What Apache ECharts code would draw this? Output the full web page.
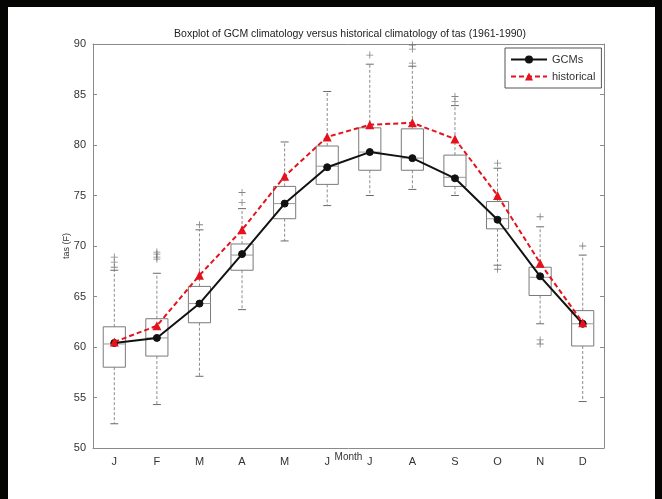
<!DOCTYPE html>
<html>
<head>
<meta charset="utf-8">
<script src="https://cdn.jsdelivr.net/npm/echarts@6/dist/echarts.min.js"></script>
<style>
  html, body { margin: 0; padding: 0; background: #050503; width: 662px; height: 499px; overflow: hidden; }
  #chart { position: absolute; left: 8px; top: 7px; width: 647px; height: 492px; background: #ffffff; }
</style>
</head>
<body>
<div id="chart"></div>
<script>
// Monthly climatology of tas (F), 1961-1990
const months = ['J', 'F', 'M', 'A', 'M', 'J', 'J', 'A', 'S', 'O', 'N', 'D'];

// Spread of the GCM ensemble for each month (box-and-whisker statistics)
const whiskerLow  = [52.4, 54.3, 57.1, 63.7, 70.5, 74.0, 75.0, 75.6, 75.0, 68.1, 62.3, 54.6];
const quartile1   = [58.0, 59.1, 62.4, 67.6, 72.7, 76.1, 77.5, 77.5, 75.9, 71.7, 65.1, 60.1];
const medians     = [60.3, 60.9, 64.3, 69.1, 74.2, 77.9, 79.3, 78.7, 76.8, 72.7, 66.9, 62.3];
const quartile3   = [62.0, 62.8, 66.0, 70.2, 75.9, 79.9, 81.7, 81.6, 79.0, 74.4, 67.9, 63.6];
const whiskerHigh = [67.6, 67.3, 71.6, 73.7, 80.3, 85.3, 88.0, 87.8, 83.9, 77.7, 71.9, 69.1];

// Individual GCM values beyond the whiskers: [month index, value]
const outliers = [
  [0, 67.9], [0, 68.4], [0, 68.9],
  [1, 68.7], [1, 68.9], [1, 69.2], [1, 69.4],
  [2, 72.1],
  [3, 74.3], [3, 75.3],
  [6, 88.9],
  [7, 88.1], [7, 89.5], [7, 89.9],
  [8, 84.3], [8, 84.8],
  [9, 78.2], [9, 67.7],
  [10, 72.9], [10, 60.7], [10, 60.3],
  [11, 70.0]
];

// Ensemble mean of the GCMs and the observed (historical) climatology
const gcmMean    = [60.4, 60.9, 64.3, 69.2, 74.2, 77.8, 79.3, 78.7, 76.7, 72.6, 67.0, 62.3];
const historical = [60.5, 62.1, 67.1, 71.6, 76.9, 80.8, 82.0, 82.2, 80.6, 75.0, 68.3, 62.4];

const yTicks = { min: 50, max: 90, interval: 5 };

const boxData = months.map((m, i) => [i, whiskerLow[i], quartile1[i], medians[i], quartile3[i], whiskerHigh[i]]);

const frameColor = '#8a8a8a';
const boxColor = '#7a7a7a';
const fontFamily = 'Liberation Sans, Arial, sans-serif';

function renderBox(params, api) {
  const i = api.value(0);
  const band = api.size([1, 0])[0];
  const half = band * 0.26;
  const cap = 4;
  const pLow = api.coord([i, api.value(1)]);
  const pQ1 = api.coord([i, api.value(2)]);
  const pMed = api.coord([i, api.value(3)]);
  const pQ3 = api.coord([i, api.value(4)]);
  const pHigh = api.coord([i, api.value(5)]);
  const x = pQ1[0];
  const solid = { stroke: boxColor, lineWidth: 1, fill: null };
  const dashed = { stroke: '#8c8c8c', lineWidth: 1, lineDash: [3, 2] };
  return {
    type: 'group',
    children: [
      { type: 'line', shape: { x1: x, y1: pQ3[1], x2: x, y2: pHigh[1] }, style: dashed },
      { type: 'line', shape: { x1: x, y1: pQ1[1], x2: x, y2: pLow[1] }, style: dashed },
      { type: 'line', shape: { x1: x - cap, y1: pHigh[1], x2: x + cap, y2: pHigh[1] }, style: { stroke: '#6a6a6a', lineWidth: 1 } },
      { type: 'line', shape: { x1: x - cap, y1: pLow[1], x2: x + cap, y2: pLow[1] }, style: { stroke: '#6a6a6a', lineWidth: 1 } },
      { type: 'rect', shape: { x: x - half, y: pQ3[1], width: half * 2, height: pQ1[1] - pQ3[1] }, style: solid },
      { type: 'line', shape: { x1: x - half, y1: pMed[1], x2: x + half, y2: pMed[1] }, style: { stroke: '#9a9a9a', lineWidth: 1 } }
    ]
  };
}

const chart = echarts.init(document.getElementById('chart'), null, { renderer: 'canvas' });

const axisFont = { fontFamily: fontFamily, fontSize: 11, color: '#333' };

chart.setOption({
  animation: false,
  backgroundColor: '#ffffff',
  title: {
    text: 'Boxplot of GCM climatology versus historical climatology of tas (1961-1990)',
    left: 337, top: 17, textAlign: 'center',
    textStyle: { fontFamily: fontFamily, fontSize: 10.5, fontWeight: 'normal', color: '#222' }
  },
  legend: {
    orient: 'vertical',
    left: 497, top: 41,
    padding: [6, 6, 6, 5],
    itemGap: 6,
    itemWidth: 36,
    itemHeight: 10,
    borderColor: '#555',
    borderWidth: 1,
    backgroundColor: '#fff',
    textStyle: { fontFamily: fontFamily, fontSize: 11, color: '#333' },
    data: ['GCMs', 'historical']
  },
  grid: { left: 85, right: 51, top: 37, bottom: 51 },
  xAxis: [
    {
      type: 'category', data: months, boundaryGap: true,
      name: 'Month', nameLocation: 'middle', nameGap: 4, nameMoveOverlap: false,
      nameTextStyle: { fontFamily: fontFamily, fontSize: 10, color: '#333' },
      axisLine: { lineStyle: { color: frameColor } },
      axisTick: { inside: true, length: 4, alignWithLabel: true, lineStyle: { color: frameColor } },
      axisLabel: Object.assign({ margin: 8 }, axisFont),
      splitLine: { show: false }
    },
    {
      type: 'category', data: months, boundaryGap: true, position: 'top',
      axisLine: { lineStyle: { color: frameColor } },
      axisTick: { inside: true, length: 4, alignWithLabel: true, lineStyle: { color: frameColor } },
      axisLabel: { show: false },
      splitLine: { show: false }
    }
  ],
  yAxis: [
    {
      type: 'value', min: yTicks.min, max: yTicks.max, interval: yTicks.interval,
      name: 'tas (F)', nameLocation: 'middle', nameGap: 22, nameRotate: 90, nameMoveOverlap: false,
      nameTextStyle: { fontFamily: fontFamily, fontSize: 9, color: '#333' },
      axisLine: { show: true, lineStyle: { color: frameColor } },
      axisTick: { show: true, inside: true, length: 4, lineStyle: { color: frameColor } },
      axisLabel: Object.assign({ margin: 7 }, axisFont),
      splitLine: { show: false }
    },
    {
      type: 'value', min: yTicks.min, max: yTicks.max, interval: yTicks.interval, position: 'right',
      axisLine: { show: true, lineStyle: { color: frameColor } },
      axisTick: { show: true, inside: true, length: 4, lineStyle: { color: frameColor } },
      axisLabel: { show: false },
      splitLine: { show: false }
    }
  ],
  series: [
    {
      name: 'boxes', type: 'custom', renderItem: renderBox, data: boxData,
      encode: { x: 0, y: [1, 2, 3, 4, 5] }, z: 1, silent: true
    },
    {
      name: 'outliers', type: 'scatter', data: outliers,
      symbol: 'path://M4.4,0h1.2v10h-1.2zM0,4.4h10v1.2h-10z', symbolSize: 7,
      itemStyle: { color: '#666' }, z: 2, silent: true
    },
    {
      name: 'GCMs', type: 'line', data: gcmMean,
      symbol: 'circle', symbolSize: 7,
      lineStyle: { color: '#111', width: 2 },
      itemStyle: { color: '#111', borderColor: '#111' },
      z: 4
    },
    {
      name: 'historical', type: 'line', data: historical,
      symbol: 'triangle', symbolSize: 9,
      lineStyle: { color: '#e3121c', width: 2, type: [5, 3] },
      itemStyle: { color: '#e3121c' },
      z: 5
    }
  ]
});
</script>
</body>
</html>
